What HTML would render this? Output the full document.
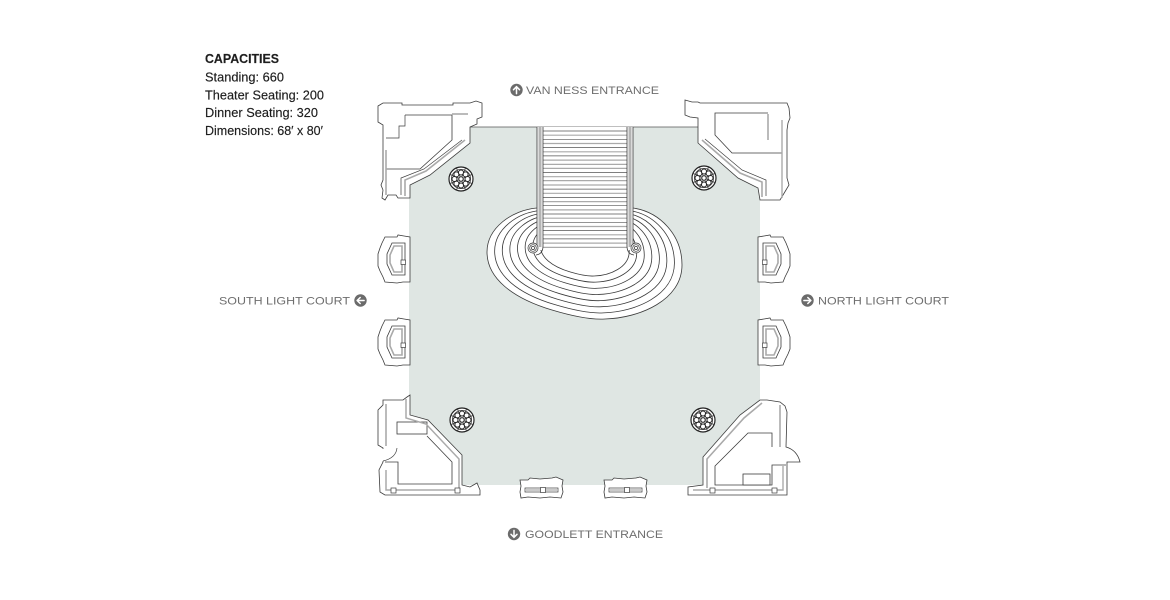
<!DOCTYPE html>
<html><head><meta charset="utf-8"><style>
html,body{margin:0;padding:0;background:#fff;}
svg{display:block;}
text{font-family:"Liberation Sans",sans-serif;}
</style></head><body>
<svg width="1170" height="600" viewBox="0 0 1170 600" xmlns="http://www.w3.org/2000/svg">
<defs>
<g id="ros">
<circle r="12" fill="#fff" stroke="#222" stroke-width="1.2"/>
<circle r="9.6" fill="none" stroke="#444" stroke-width="0.8"/>
<g stroke="#333" stroke-width="0.8">
<line x1="0" y1="0" x2="11.1" y2="4.6"/><line x1="0" y1="0" x2="4.6" y2="11.1"/><line x1="0" y1="0" x2="-4.6" y2="11.1"/><line x1="0" y1="0" x2="-11.1" y2="4.6"/>
<line x1="0" y1="0" x2="-11.1" y2="-4.6"/><line x1="0" y1="0" x2="-4.6" y2="-11.1"/><line x1="0" y1="0" x2="4.6" y2="-11.1"/><line x1="0" y1="0" x2="11.1" y2="-4.6"/>
</g>
<g fill="#fff" stroke="#222" stroke-width="1">
<circle cx="6.5" cy="0" r="2.5"/><circle cx="4.6" cy="4.6" r="2.5"/><circle cx="0" cy="6.5" r="2.5"/><circle cx="-4.6" cy="4.6" r="2.5"/>
<circle cx="-6.5" cy="0" r="2.5"/><circle cx="-4.6" cy="-4.6" r="2.5"/><circle cx="0" cy="-6.5" r="2.5"/><circle cx="4.6" cy="-4.6" r="2.5"/>
<circle r="2.2"/>
</g>
</g>
<g id="ico">
<circle r="6.2" fill="#6b6b6b"/>
<path d="M0,3.6 L0,-3.2 M-3,-0.3 L0,-3.4 L3,-0.3" fill="none" stroke="#fff" stroke-width="1.5" stroke-linecap="round" stroke-linejoin="round"/>
</g>
<g id="pilL">
<path d="M385,237 L397,237 L398,235 L404,236 L410,237 L410,282 L403,282 L397,283 L385,282 L383,277 L380,271 L378,266 L378,254 L380,248 L382,243 Z" fill="#fff" stroke="#3c3c3c" stroke-width="0.8"/>
<path d="M392,243 L405,243 L405,275 L392,275 L387,264 L387,254 Z" fill="none" stroke="#3c3c3c" stroke-width="0.8"/>
<path d="M394,246 L402,246 L402,272 L394,272 L390,263 L390,255 Z" fill="none" stroke="#aaa" stroke-width="1.6"/>
<rect x="401" y="260" width="4.5" height="4.5" fill="#fff" stroke="#3c3c3c" stroke-width="0.7"/>
</g>
<g id="pilB">
<path d="M520,480 L528,480 L530,478 L540,479 L552,478 L556,477 L563,480 L562,486 L563,492 L561,498 L550,497 L540,498 L528,497 L521,498 L520,492 L521,486 Z" fill="#fff" stroke="#3c3c3c" stroke-width="0.8"/>
<rect x="525" y="488" width="33" height="4" fill="none" stroke="#3c3c3c" stroke-width="0.7"/>
<line x1="526" y1="490" x2="557" y2="490" stroke="#aaa" stroke-width="1.3"/>
<rect x="540.5" y="487.5" width="5" height="5" fill="#fff" stroke="#3c3c3c" stroke-width="0.7"/>
</g>
</defs>

<!-- floor -->
<path d="M470,127 L698,127 L698,143 L738,178 L758,188 L760,200 L760,400 L740,415 L703,457 L703,485 L462,485 L462,455 L428,420 L410,415 L409,395 L409,198 L410,185 L430,175 L470,143 Z" fill="#dfe6e3"/>
<line x1="470" y1="127" x2="698" y2="127" stroke="#555" stroke-width="0.8"/>

<!-- TL structure -->
<path d="M378,106 L383,103 L402,103 L402,105 L453,105 L453,103 L470,103 L476,101 L482,103 L482,117 L477,119 L477,124 L470,127 L470,143 L430,175 L410,185 L410,198 L398,198 L396,195 L388,195 L385,200 L382,198 L383,190 L381,185 L383,180 L383,125 L378,122 Z" fill="#fff" stroke="#3c3c3c" stroke-width="0.8"/>
<path d="M405,115 L452,115 L452,140 L420,169 L386,169" fill="none" stroke="#3c3c3c" stroke-width="0.8"/>
<path d="M405,115 L405,126 L399,126 L399,138 L386,138" fill="none" stroke="#3c3c3c" stroke-width="0.7"/>
<path d="M452,114 L468,114" stroke="#aaa" stroke-width="1.6"/>
<path d="M386,150 L386,195" stroke="#aaa" stroke-width="1.6"/>
<path d="M465,140 L426,171 L405,180 L405,196" fill="none" stroke="#aaa" stroke-width="1.6"/>
<path d="M462,140 L424,169 L401,178 L401,195" fill="none" stroke="#3c3c3c" stroke-width="0.7"/>

<!-- TR structure -->
<path d="M685,100 L692,102 L698,102 L700,103 L787,103 L789,108 L790,118 L788,123 L787,130 L787,178 L789,185 L786,190 L783,195 L780,200 L760,200 L758,188 L738,178 L698,143 L698,127 L698,118 L690,117 L685,115 Z" fill="#fff" stroke="#3c3c3c" stroke-width="0.8"/>
<path d="M768,113 L715,113 L715,135 L732,153 L782,153" fill="none" stroke="#3c3c3c" stroke-width="0.8"/>
<path d="M768,114 L768,140" stroke="#aaa" stroke-width="1.6"/>
<path d="M782,120 L782,198" stroke="#aaa" stroke-width="1.4"/>
<path d="M702,140 L740,173 L762,182 L762,197" fill="none" stroke="#aaa" stroke-width="1.6"/>
<path d="M705,139 L742,170 L766,180 L766,196" fill="none" stroke="#3c3c3c" stroke-width="0.7"/>

<!-- BL structure -->
<path d="M383,400 L403,400 L407,397 L410,395 L410,415 L428,420 L462,455 L462,485 L470,487 L477,483 L480,490 L480,495 L385,495 L380,492 L379,470 L383,462 L383,448 L378,445 L378,410 L383,405 Z" fill="#fff" stroke="#3c3c3c" stroke-width="0.8"/>
<line x1="383.5" y1="449" x2="383.5" y2="461" stroke="#fff" stroke-width="2"/>
<path d="M397,448 Q396,458 383,461" fill="none" stroke="#3c3c3c" stroke-width="0.7"/>
<rect x="397" y="422" width="30" height="12" fill="#fff" stroke="#3c3c3c" stroke-width="0.8"/>
<path d="M427,436 L452,462 L452,484 L398,484 L398,462 L385,462" fill="none" stroke="#3c3c3c" stroke-width="0.8"/>
<path d="M386,404 L386,446" stroke="#aaa" stroke-width="1.6"/>
<path d="M406,399 L406,418 L426,424 L459,459 L459,490 L386,490 L386,470" fill="none" stroke="#aaa" stroke-width="1.5"/>
<rect x="391" y="488" width="5" height="5" fill="#fff" stroke="#3c3c3c" stroke-width="0.7"/>
<rect x="455" y="488" width="5" height="5" fill="#fff" stroke="#3c3c3c" stroke-width="0.7"/>

<!-- BR structure -->
<path d="M760,400 L767,400 L780,402 L785,406 L787,412 L786,447 Q797,450 800,462 L787,462 L787,495 L688,495 L688,487 L703,485 L703,457 L740,415 Z" fill="#fff" stroke="#3c3c3c" stroke-width="0.8"/>
<path d="M772,447 L772,433 L748,433 L715,466 L715,485 L772,485 L772,465 L786,465" fill="none" stroke="#3c3c3c" stroke-width="0.8"/>
<rect x="743" y="474" width="27" height="11" fill="#fff" stroke="#3c3c3c" stroke-width="0.8"/>
<path d="M780,405 L780,447" stroke="#aaa" stroke-width="1.6"/>
<path d="M783,466 L783,490 L693,490" fill="none" stroke="#aaa" stroke-width="1.4"/>
<path d="M762,403 L744,418 L707,459 L707,488" fill="none" stroke="#aaa" stroke-width="1.6"/>
<rect x="710" y="488" width="5" height="5" fill="#fff" stroke="#3c3c3c" stroke-width="0.7"/>
<rect x="772" y="488" width="5" height="5" fill="#fff" stroke="#3c3c3c" stroke-width="0.7"/>

<!-- side pilasters -->
<use href="#pilL"/>
<use href="#pilL" transform="translate(0,83)"/>
<use href="#pilL" transform="translate(1168,0) scale(-1,1)"/>
<use href="#pilL" transform="translate(1168,83) scale(-1,1)"/>
<use href="#pilB"/>
<use href="#pilB" transform="translate(84,0)"/>

<!-- rosettes -->
<use href="#ros" transform="translate(461,179)"/>
<use href="#ros" transform="translate(704,178)"/>
<use href="#ros" transform="translate(462,420)"/>
<use href="#ros" transform="translate(703,420)"/>

<!-- oval steps -->
<g fill="none" stroke="#3a3a3a" stroke-width="0.8">
<path d="M537,208 C512,210 487,228 487,252 C487,278 512,298 552,310 C572,316 590,320 605,319 C640,318 682,300 682,265 C682,235 660,212 633,208 Z" fill="#fff"/>
<path vector-effect="non-scaling-stroke" transform="translate(585 240) scale(0.922) translate(-585 -240)" d="M537,208 C512,210 487,228 487,252 C487,278 512,298 552,310 C572,316 590,320 605,319 C640,318 682,300 682,265 C682,235 660,212 633,208 Z"/>
<path vector-effect="non-scaling-stroke" transform="translate(585 240) scale(0.844) translate(-585 -240)" d="M537,208 C512,210 487,228 487,252 C487,278 512,298 552,310 C572,316 590,320 605,319 C640,318 682,300 682,265 C682,235 660,212 633,208 Z"/>
<path vector-effect="non-scaling-stroke" transform="translate(585 240) scale(0.767) translate(-585 -240)" d="M537,208 C512,210 487,228 487,252 C487,278 512,298 552,310 C572,316 590,320 605,319 C640,318 682,300 682,265 C682,235 660,212 633,208 Z"/>
<path vector-effect="non-scaling-stroke" transform="translate(585 240) scale(0.689) translate(-585 -240)" d="M537,208 C512,210 487,228 487,252 C487,278 512,298 552,310 C572,316 590,320 605,319 C640,318 682,300 682,265 C682,235 660,212 633,208 Z"/>
<path vector-effect="non-scaling-stroke" transform="translate(585 240) scale(0.611) translate(-585 -240)" d="M537,208 C512,210 487,228 487,252 C487,278 512,298 552,310 C572,316 590,320 605,319 C640,318 682,300 682,265 C682,235 660,212 633,208 Z"/>
<path vector-effect="non-scaling-stroke" transform="translate(585 240) scale(0.533) translate(-585 -240)" d="M537,208 C512,210 487,228 487,252 C487,278 512,298 552,310 C572,316 590,320 605,319 C640,318 682,300 682,265 C682,235 660,212 633,208 Z"/>
<path vector-effect="non-scaling-stroke" transform="translate(585 240) scale(0.456) translate(-585 -240)" d="M537,208 C512,210 487,228 487,252 C487,278 512,298 552,310 C572,316 590,320 605,319 C640,318 682,300 682,265 C682,235 660,212 633,208 Z"/>
</g>

<!-- staircase -->
<rect x="537" y="127" width="96" height="123" fill="#fff"/>
<g stroke-width="0.7" stroke="#555">
<line x1="543" y1="131" x2="627" y2="131"/>
<line x1="543" y1="139.3" x2="627" y2="139.3"/>
<line x1="543" y1="147.6" x2="627" y2="147.6"/>
<line x1="543" y1="155.9" x2="627" y2="155.9"/>
<line x1="543" y1="164.2" x2="627" y2="164.2"/>
<line x1="543" y1="172.5" x2="627" y2="172.5"/>
<line x1="543" y1="180.8" x2="627" y2="180.8"/>
<line x1="543" y1="189.1" x2="627" y2="189.1"/>
<line x1="543" y1="197.4" x2="627" y2="197.4"/>
<line x1="543" y1="205.7" x2="627" y2="205.7"/>
<line x1="543" y1="214" x2="627" y2="214"/>
<line x1="543" y1="222.3" x2="627" y2="222.3"/>
<line x1="543" y1="230.6" x2="627" y2="230.6"/>
<line x1="543" y1="238.9" x2="627" y2="238.9"/>
<line x1="543" y1="247.2" x2="627" y2="247.2"/>
</g>
<g stroke-width="1.2" stroke="#aaa">
<line x1="543" y1="135.2" x2="627" y2="135.2"/>
<line x1="543" y1="143.5" x2="627" y2="143.5"/>
<line x1="543" y1="151.8" x2="627" y2="151.8"/>
<line x1="543" y1="160.1" x2="627" y2="160.1"/>
<line x1="543" y1="168.4" x2="627" y2="168.4"/>
<line x1="543" y1="176.7" x2="627" y2="176.7"/>
<line x1="543" y1="185" x2="627" y2="185"/>
<line x1="543" y1="193.3" x2="627" y2="193.3"/>
<line x1="543" y1="201.6" x2="627" y2="201.6"/>
<line x1="543" y1="209.9" x2="627" y2="209.9"/>
<line x1="543" y1="218.2" x2="627" y2="218.2"/>
<line x1="543" y1="226.5" x2="627" y2="226.5"/>
<line x1="543" y1="234.8" x2="627" y2="234.8"/>
<line x1="543" y1="243.1" x2="627" y2="243.1"/>
</g>
<!-- stringers -->
<rect x="538.5" y="127" width="3" height="120" fill="#b4b4b4"/>
<rect x="628.5" y="127" width="3" height="120" fill="#b4b4b4"/>
<g stroke="#3a3a3a" stroke-width="0.8" fill="none">
<path d="M537,127 L537,244 Q537,252 532,252"/>
<path d="M543,127 L543,246 Q543,254 536,255"/>
<path d="M633,127 L633,244 Q633,252 638,252"/>
<path d="M627,127 L627,246 Q627,254 634,255"/>
</g>
<g fill="#fff" stroke="#3a3a3a" stroke-width="0.7">
<circle cx="533" cy="248" r="5"/><circle cx="533" cy="248" r="3.3"/><circle cx="533" cy="248" r="1.6"/>
<circle cx="636" cy="248" r="5"/><circle cx="636" cy="248" r="3.3"/><circle cx="636" cy="248" r="1.6"/>
</g>

<!-- capacities text -->
<g fill="#1e1e1e" font-size="12.5" stroke="#1e1e1e" stroke-width="0.15">
<text x="205" y="63" font-weight="bold" textLength="74" lengthAdjust="spacingAndGlyphs">CAPACITIES</text>
<text x="205" y="81.5" textLength="79" lengthAdjust="spacingAndGlyphs">Standing: 660</text>
<text x="205" y="99.5" textLength="119" lengthAdjust="spacingAndGlyphs">Theater Seating: 200</text>
<text x="205" y="117" textLength="113" lengthAdjust="spacingAndGlyphs">Dinner Seating: 320</text>
<text x="205" y="135" textLength="118" lengthAdjust="spacingAndGlyphs">Dimensions: 68′ x 80′</text>
</g>

<!-- direction labels -->
<g fill="#6e6e6e" font-size="11">
<text x="526" y="94.2" textLength="133" lengthAdjust="spacingAndGlyphs">VAN NESS ENTRANCE</text>
<text x="219" y="304.5" textLength="131" lengthAdjust="spacingAndGlyphs">SOUTH LIGHT COURT</text>
<text x="818" y="304.5" textLength="131" lengthAdjust="spacingAndGlyphs">NORTH LIGHT COURT</text>
<text x="525" y="538.2" textLength="138" lengthAdjust="spacingAndGlyphs">GOODLETT ENTRANCE</text>
</g>
<use href="#ico" transform="translate(516.5,90)"/>
<use href="#ico" transform="translate(360.5,300.5) rotate(-90)"/>
<use href="#ico" transform="translate(807.5,300.5) rotate(90)"/>
<use href="#ico" transform="translate(514,534) rotate(180)"/>
</svg>
</body></html>
